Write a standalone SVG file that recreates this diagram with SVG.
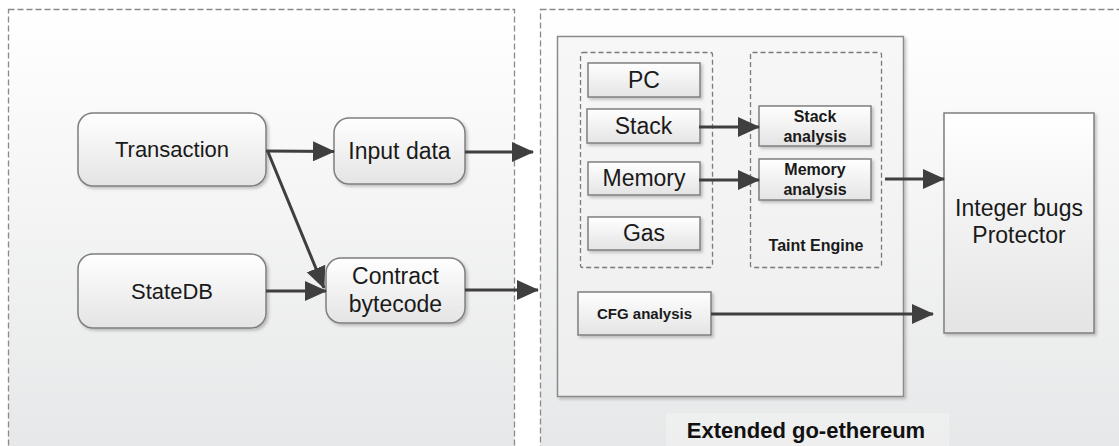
<svg xmlns="http://www.w3.org/2000/svg" width="1119" height="446" viewBox="0 0 1119 446">
  <defs>
    <linearGradient id="panelFill" x1="0" y1="0" x2="0" y2="1">
      <stop offset="0" stop-color="#ffffff"/>
      <stop offset="1" stop-color="#e6e7e8"/>
    </linearGradient>
    <linearGradient id="boxFill" x1="0" y1="0" x2="0" y2="1">
      <stop offset="0" stop-color="#ffffff"/>
      <stop offset="1" stop-color="#e4e4e4"/>
    </linearGradient>
    <linearGradient id="bigFill" x1="0" y1="0" x2="0" y2="1">
      <stop offset="0" stop-color="#f7f7f7"/>
      <stop offset="1" stop-color="#eeeeee"/>
    </linearGradient>
    <filter id="shadow" x="-10%" y="-10%" width="125%" height="130%">
      <feDropShadow dx="2" dy="2" stdDeviation="1.5" flood-color="#000" flood-opacity="0.22"/>
    </filter>
    <marker id="arrow" markerUnits="userSpaceOnUse" markerWidth="22" markerHeight="20" refX="21" refY="10" orient="auto">
      <path d="M0,0 L22,10 L0,20 z" fill="#3f3f3f"/>
    </marker>
  </defs>
  <style>
    .panel { fill: url(#panelFill); stroke: #8a8a8a; stroke-width: 1.3; stroke-dasharray: 6 3; }
    .group { fill: none; stroke: #7a7a7a; stroke-width: 1.3; stroke-dasharray: 5 3; }
    .box { fill: url(#boxFill); stroke: #7f7f7f; stroke-width: 1.5; filter: url(#shadow); }
    .big { fill: url(#bigFill); stroke: #8a8a8a; stroke-width: 1.5; filter: url(#shadow); }
    .lbl { font-family: "Liberation Sans", Arial, sans-serif; font-size: 23px; fill: #1a1a1a; text-anchor: middle; }
    .sm { font-family: "Liberation Sans", Arial, sans-serif; font-size: 16px; font-weight: bold; fill: #1a1a1a; text-anchor: middle; }
    .title { font-family: "Liberation Sans", Arial, sans-serif; font-size: 22px; font-weight: bold; fill: #111; text-anchor: middle; }
    .edge { fill: none; stroke: #3f3f3f; stroke-width: 3; marker-end: url(#arrow); }
  </style>

  <!-- background panels -->
  <rect x="8.5" y="9.5" width="506" height="450" class="panel"/>
  <rect x="540.5" y="9.5" width="590" height="450" class="panel"/>

  <!-- left side: transaction sources -->
  <g id="transaction">
    <rect x="78" y="113" width="188" height="73" rx="15" class="box"/>
    <text x="172" y="157" class="lbl" style="font-size:22px">Transaction</text>
  </g>
  <g id="statedb">
    <rect x="78" y="254" width="188" height="74" rx="15" class="box"/>
    <text x="172" y="299" class="lbl" style="font-size:22px">StateDB</text>
  </g>
  <g id="input-data">
    <rect x="334" y="118" width="131" height="66" rx="15" class="box"/>
    <text x="399.5" y="159" class="lbl">Input data</text>
  </g>
  <g id="contract-bytecode">
    <rect x="326" y="258" width="139" height="65" rx="15" class="box"/>
    <text x="395.5" y="284" class="lbl">Contract</text>
    <text x="395.5" y="312" class="lbl">bytecode</text>
  </g>

  <!-- right side: extended go-ethereum -->
  <g id="evm">
    <rect x="557.5" y="36.5" width="346" height="360" class="big"/>
  </g>
  <g id="vm-state">
    <rect x="580.5" y="52.5" width="132" height="215" rx="2" class="group"/>
  </g>
  <g id="pc">
    <rect x="588" y="63" width="112" height="34" class="box"/>
    <text x="644" y="88" class="lbl">PC</text>
  </g>
  <g id="stack">
    <rect x="587" y="109" width="113" height="34" class="box"/>
    <text x="643.5" y="134" class="lbl">Stack</text>
  </g>
  <g id="memory">
    <rect x="588" y="162" width="112" height="33" class="box"/>
    <text x="644" y="186" class="lbl">Memory</text>
  </g>
  <g id="gas">
    <rect x="588" y="217" width="112" height="33" class="box"/>
    <text x="644" y="241" class="lbl">Gas</text>
  </g>

  <g id="taint-engine">
    <rect x="750.5" y="52.5" width="131" height="215" rx="2" class="group"/>
    <text x="816" y="251" class="sm">Taint Engine</text>
  </g>
  <g id="stack-analysis">
    <rect x="759" y="106" width="112" height="40" class="box"/>
    <text x="815" y="122" class="sm">Stack</text>
    <text x="815" y="142" class="sm">analysis</text>
  </g>
  <g id="memory-analysis">
    <rect x="759" y="159" width="112" height="41" class="box"/>
    <text x="815" y="175" class="sm">Memory</text>
    <text x="815" y="195" class="sm">analysis</text>
  </g>

  <g id="cfg-analysis">
    <rect x="578" y="292" width="133" height="43" class="box"/>
    <text x="644.5" y="319" class="sm" style="font-size:15px">CFG analysis</text>
  </g>

  <g id="protector">
    <rect x="944" y="113" width="150" height="220" class="box"/>
    <text x="1019" y="216" class="lbl">Integer bugs</text>
    <text x="1019" y="243" class="lbl">Protector</text>
  </g>

  <g id="caption">
    <rect x="666" y="413" width="283" height="40" fill="#f6f6f7" opacity="0.45"/>
    <text x="806" y="438" class="title">Extended go-ethereum</text>
  </g>

  <!-- connectors -->
  <g id="connectors">
    <line x1="266" y1="151" x2="334" y2="151.5" class="edge"/>
    <line x1="268" y1="152" x2="324" y2="288" class="edge"/>
    <line x1="266" y1="291" x2="326" y2="291" class="edge"/>
    <line x1="465" y1="152" x2="533" y2="152" class="edge"/>
    <line x1="465" y1="290" x2="538" y2="290" class="edge"/>
    <line x1="699" y1="127" x2="759" y2="127" class="edge"/>
    <line x1="699" y1="180" x2="759" y2="180" class="edge"/>
    <line x1="885" y1="179" x2="944" y2="179" class="edge"/>
    <line x1="711" y1="314" x2="933" y2="314" class="edge"/>
  </g>
</svg>
